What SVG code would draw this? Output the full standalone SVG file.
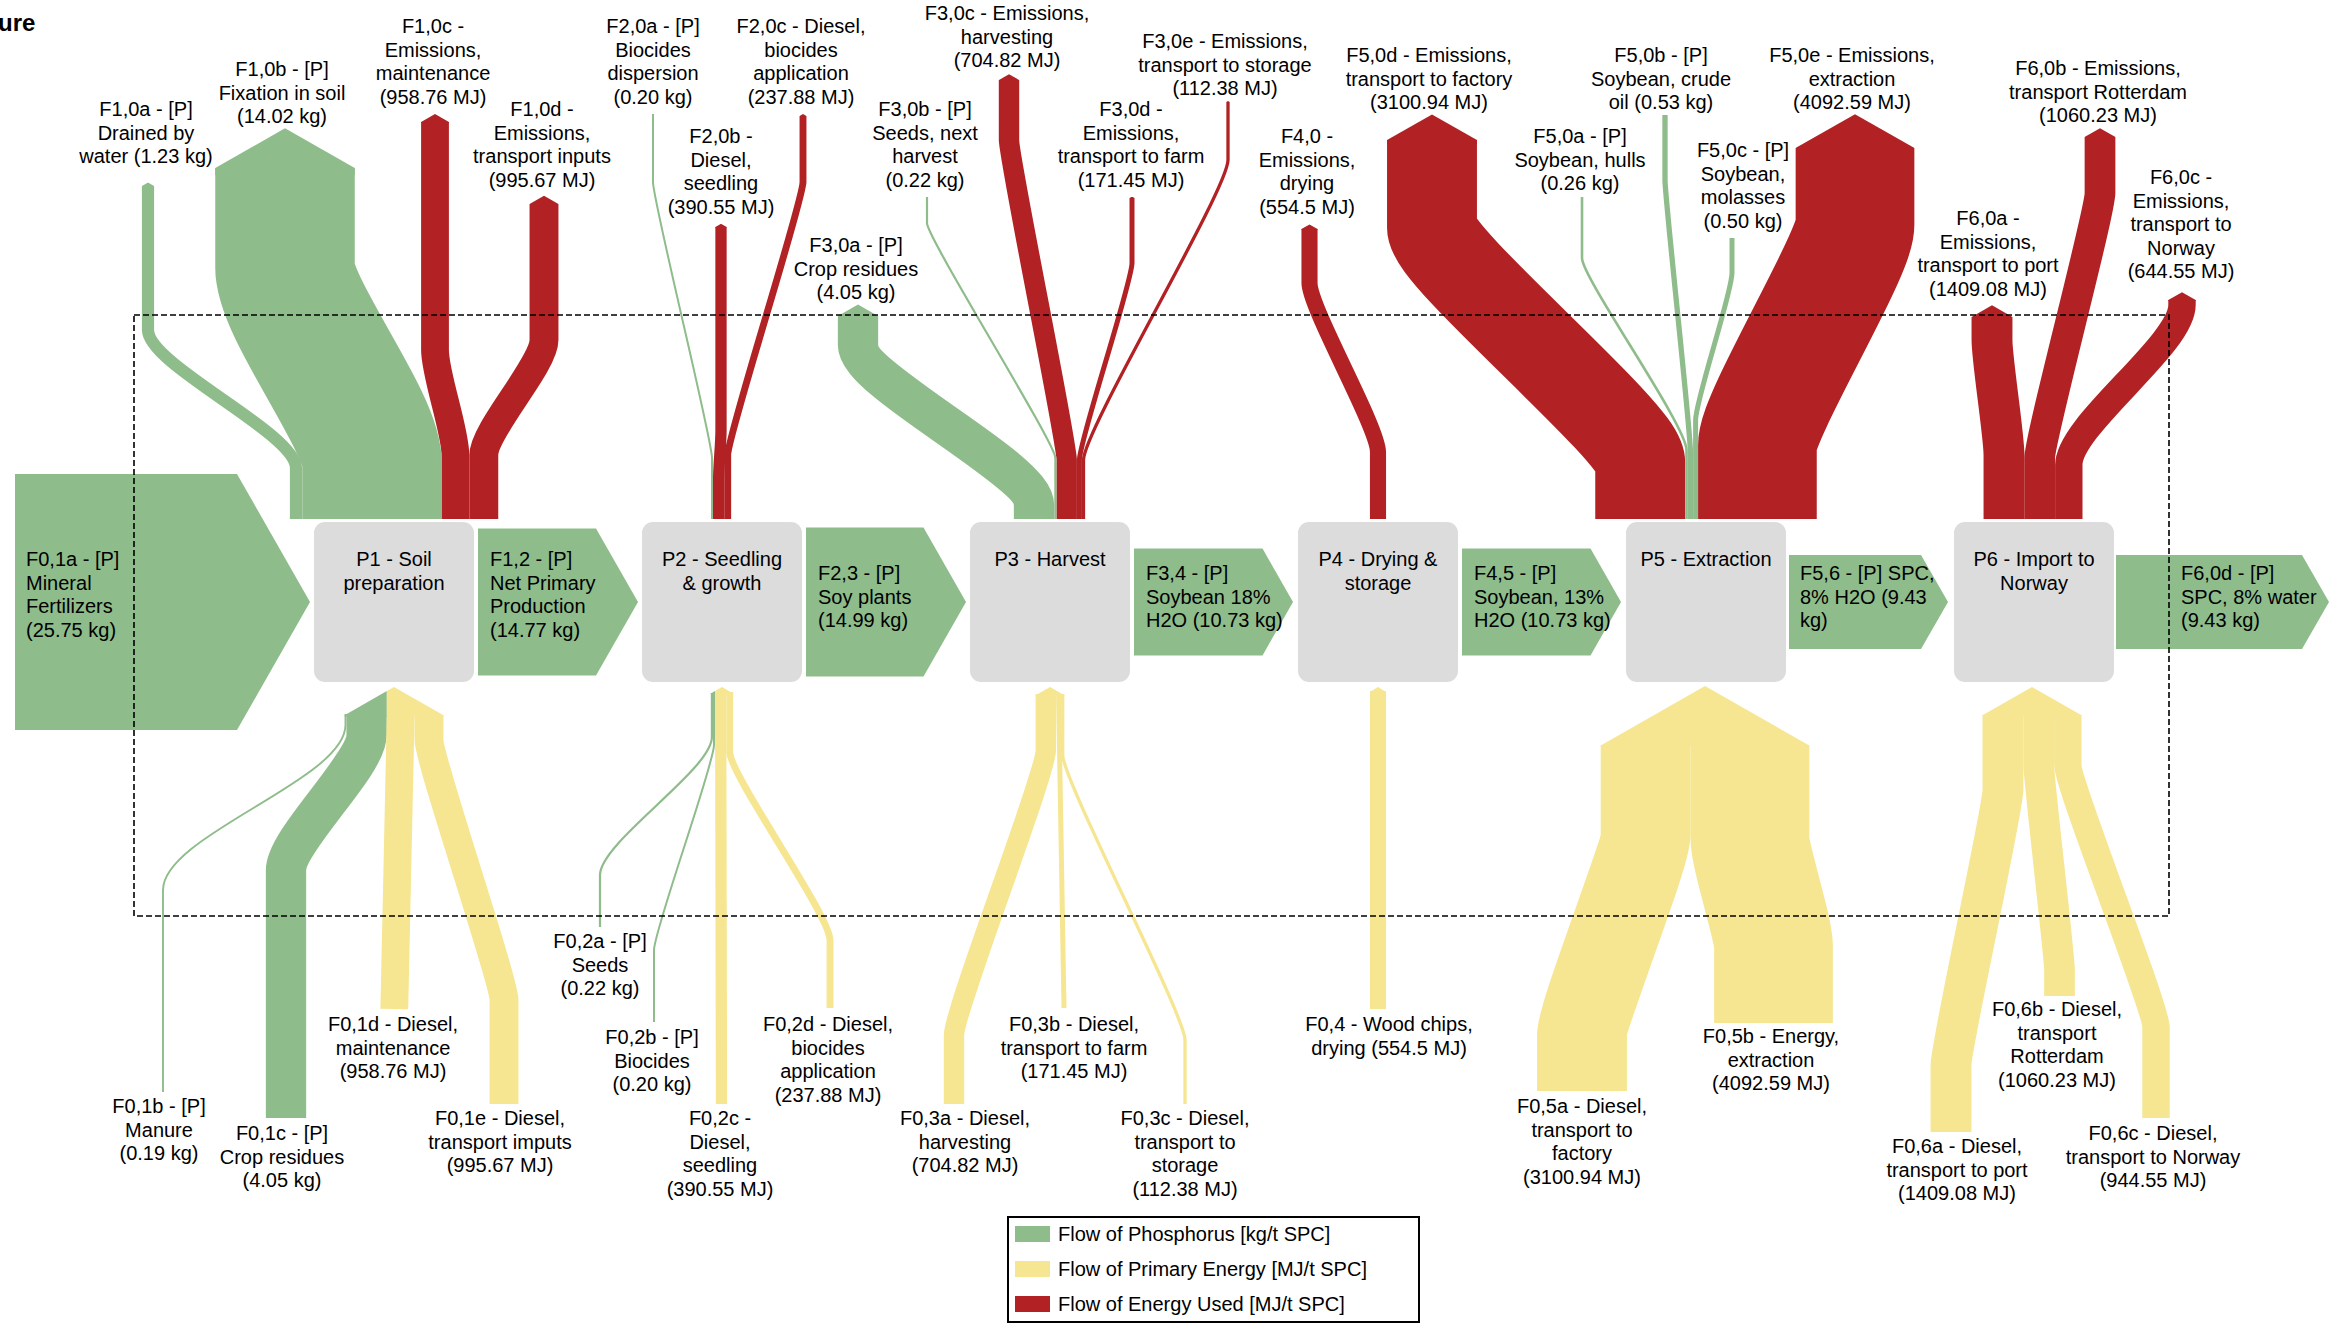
<svg xmlns="http://www.w3.org/2000/svg" width="2331" height="1324" viewBox="0 0 2331 1324">
<style>
.t{font-family:"Liberation Sans",Arial,sans-serif;font-size:20px;fill:#000;text-anchor:middle}
.ts{font-family:"Liberation Sans",Arial,sans-serif;font-size:20px;fill:#000;text-anchor:start}
.b{fill:none;stroke-linecap:butt}
.G{stroke:#8fbc8b}.R{stroke:#b22224}.Y{stroke:#f6e691}
.fG{fill:#8fbc8b}.fR{fill:#b22224}.fY{fill:#f6e691}
.proc{fill:#dcdcdc}
</style>
<defs>
<marker id="hG" viewBox="-0.05 -0.5 0.35 1" refX="0" refY="0" markerWidth="0.35" markerHeight="1" orient="auto-start-reverse" markerUnits="strokeWidth"><path d="M-0.05,-0.5L0,-0.5L0.285,0L0,0.5L-0.05,0.5Z" fill="#8fbc8b"/></marker>
<marker id="hR" viewBox="-0.05 -0.5 0.35 1" refX="0" refY="0" markerWidth="0.35" markerHeight="1" orient="auto-start-reverse" markerUnits="strokeWidth"><path d="M-0.05,-0.5L0,-0.5L0.285,0L0,0.5L-0.05,0.5Z" fill="#b22224"/></marker>
</defs>
<rect width="2331" height="1324" fill="#fff"/>
<text x="-2" y="31" font-family="Liberation Sans,Arial,sans-serif" font-size="24" font-weight="bold">ure</text>

<g id="connectors">
 <!-- horizontal phosphorus flows -->
 <polygon id="F01a" class="fG" points="15,474 237,474 310,602 237,730 15,730"/>
 <polygon id="F12" class="fG" points="478,528.5 596,528.5 638,602 596,675.5 478,675.5"/>
 <polygon id="F23" class="fG" points="806,527.5 923.5,527.5 966,602 923.5,676.5 806,676.5"/>
 <polygon id="F34" class="fG" points="1134,548.5 1262.5,548.5 1293,602 1262.5,655.5 1134,655.5"/>
 <polygon id="F45" class="fG" points="1462,548.5 1590.5,548.5 1621,602 1590.5,655.5 1462,655.5"/>
 <polygon id="F56" class="fG" points="1789,555 1921,555 1948,602 1921,649 1789,649"/>
 <polygon id="F60d" class="fG" points="2116,555 2302,555 2329,602 2302,649 2116,649"/>

 <!-- top outflows (red first, then green) -->
 <path id="F10c" class="b R" stroke-width="27.8" marker-start="url(#hR)" d="M435,122V350C435,375 455.4,430 455.4,455V519"/>
 <path id="F10d" class="b R" stroke-width="28.9" marker-start="url(#hR)" d="M544,204V340C544,365 483.8,430 483.8,455V519"/>
 <path id="F20b" class="b R" stroke-width="11.3" marker-start="url(#hR)" d="M721,227V430C721,445 718.6,465 718.6,480V519"/>
 <path id="F20c" class="b R" stroke-width="6.9" marker-start="url(#hR)" d="M803,116V182C803,202 727.7,435 727.7,455V519"/>
 <path id="F30c" class="b R" stroke-width="20.4" marker-start="url(#hR)" d="M1009,80V140C1009,160 1066.7,440 1066.7,460V519"/>
 <path id="F30d" class="b R" stroke-width="5" marker-start="url(#hR)" d="M1132,198V263C1132,283 1079.4,440 1079.4,460V519"/>
 <path id="F30e" class="b R" stroke-width="3.3" marker-start="url(#hR)" d="M1228,102V160C1228,190 1083.5,430 1083.5,460V519"/>
 <path id="F40" class="b R" stroke-width="16.1" marker-start="url(#hR)" d="M1309.5,229V283C1309.5,308 1378,427 1378,452V519"/>
 <path id="F50d" class="b R" stroke-width="89.9" marker-start="url(#hR)" d="M1432,140V228C1432,258 1640.2,432 1640.2,462V519"/>
 <path id="F50e" class="b R" stroke-width="118.7" marker-start="url(#hR)" d="M1855,148V225C1855,255 1757.4,415 1757.4,445V519"/>
 <path id="F60a" class="b R" stroke-width="40.9" marker-start="url(#hR)" d="M1992,317V340C1992,360 2004,435 2004,455V519"/>
 <path id="F60b" class="b R" stroke-width="30.7" marker-start="url(#hR)" d="M2100,137V193C2100,213 2039.7,438 2039.7,458V519"/>
 <path id="F60c" class="b R" stroke-width="27.4" marker-start="url(#hR)" d="M2182,300V305C2182,345 2068.8,425 2068.8,465V519"/>

 <path id="F10b" class="b G" stroke-width="139.5" marker-start="url(#hG)" d="M285,168V268C285,308 372,422 372,462V519"/>
 <path id="F10a" class="b G" stroke-width="12.2" marker-start="url(#hG)" d="M148,186V330C148,365 296,433 296,468V519"/>
 <path id="F20a" class="b G" stroke-width="2" d="M653,114V182C653,202 712,438 712,458V519"/>
 <path id="F30a" class="b G" stroke-width="40.3" marker-start="url(#hG)" d="M858,316V345C858,382 1034,468 1034,505V519"/>
 <path id="F30b" class="b G" stroke-width="2.2" d="M927,197V223C927,238 1055.4,443 1055.4,458V519"/>
 <path id="F50a" class="b G" stroke-width="2.6" d="M1582,197V258C1582,278 1686.5,425 1686.5,450V519"/>
 <path id="F50b" class="b G" stroke-width="5.3" d="M1665,115V180C1665,200 1690.4,427 1690.4,452V519"/>
 <path id="F50c" class="b G" stroke-width="5" d="M1732,238V273C1732,293 1695.6,400 1695.6,420V519"/>

 <!-- bottom inflows -->
 <path id="F01b" class="b G" stroke-width="1.9" d="M345.5,714V725C345.5,780 163,835 163,890V1092"/>
 <path id="F01c" class="b G" stroke-width="40.3" d="M366.6,715V735C366.6,765 286,840 286,870V1118"/>
 <path id="F01d" class="b Y" stroke-width="27.8" d="M400.7,715L394.3,1009"/>
 <path id="F01e" class="b Y" stroke-width="28.9" d="M429,715V740C429,760 504,980 504,1000V1104"/>
 <polygon class="fG" points="344.6,716.5 344.6,715.2 386.8,691.1 386.8,716.5"/>
 <polygon class="fY" points="386.8,716.5 386.8,691.1 394,687 443.5,715.2 443.5,716.5"/>

 <path id="F02a" class="b G" stroke-width="2.2" d="M711.9,693V737C711.9,770 600,842 600,875V927"/>
 <path id="F02b" class="b G" stroke-width="2" d="M714,692V745C714,765 654,930 654,950V1022"/>
 <path id="F02c" class="b Y" stroke-width="11.3" d="M720.65,692L721.5,1104"/>
 <path id="F02d" class="b Y" stroke-width="6.9" d="M729.75,692V752C729.75,775 830,915 830,940V1008"/>
 <polygon class="fG" points="710.8,694 710.8,693.4 715,691 715,694"/>
 <polygon class="fY" points="715,694 715,691 722,687 733.2,693.4 733.2,694"/>

 <path id="F03a" class="b Y" stroke-width="20.4" d="M1045.85,694V750C1045.85,775 954,1010 954,1035V1104"/>
 <path id="F03b" class="b Y" stroke-width="5" d="M1058.55,694L1064,1008"/>
 <path id="F03c" class="b Y" stroke-width="3.3" d="M1062.7,694V755C1062.7,780 1185,1015 1185,1040V1104"/>
 <polygon class="fY" points="1035.65,696 1035.65,695.2 1050,687 1064.35,695.2 1064.35,696"/>

 <path id="F04" class="b Y" stroke-width="16.1" d="M1378,691V1009"/>
 <polygon class="fY" points="1369.95,692 1378,687 1386.05,692"/>

 <path id="F05a" class="b Y" stroke-width="89.9" d="M1645.65,745V835C1645.65,855 1582,1015 1582,1035V1091"/>
 <path id="F05b" class="b Y" stroke-width="118.7" d="M1749.95,745V840C1749.95,855 1773.5,930 1773.5,945V1023"/>
 <polygon class="fY" points="1600.7,746 1600.7,745.5 1705,686 1809.3,745.5 1809.3,746"/>

 <path id="F06a" class="b Y" stroke-width="40.9" d="M2002.95,715V790C2002.95,810 1951,1045 1951,1065V1132"/>
 <path id="F06b" class="b Y" stroke-width="30.7" d="M2038.75,715V765C2038.75,780 2059.5,955 2059.5,970V996"/>
 <path id="F06c" class="b Y" stroke-width="27.4" d="M2067.8,715V765C2067.8,785 2156,1007 2156,1027V1118"/>
 <polygon class="fY" points="1982.5,716 1982.5,715.2 2032,687 2081.5,715.2 2081.5,716"/>
</g>

<g id="P1"><rect class="proc" x="314" y="522" width="160" height="160" rx="11"/><text class="t" x="394" y="566">P1 - Soil<tspan x="394" dy="24">preparation</tspan></text></g>
<g id="P2"><rect class="proc" x="642" y="522" width="160" height="160" rx="11"/><text class="t" x="722" y="566">P2 - Seedling<tspan x="722" dy="24">&amp; growth</tspan></text></g>
<g id="P3"><rect class="proc" x="970" y="522" width="160" height="160" rx="11"/><text class="t" x="1050" y="566">P3 - Harvest</text></g>
<g id="P4"><rect class="proc" x="1298" y="522" width="160" height="160" rx="11"/><text class="t" x="1378" y="566">P4 - Drying &amp;<tspan x="1378" dy="24">storage</tspan></text></g>
<g id="P5"><rect class="proc" x="1626" y="522" width="160" height="160" rx="11"/><text class="t" x="1706" y="566">P5 - Extraction</text></g>
<g id="P6"><rect class="proc" x="1954" y="522" width="160" height="160" rx="11"/><text class="t" x="2034" y="566">P6 - Import to<tspan x="2034" dy="24">Norway</tspan></text></g>

<rect id="boundary" x="134" y="315" width="2035" height="601" fill="none" stroke="#000" stroke-width="1.6" stroke-dasharray="6,3"/>

<g id="flow-labels">
 <text class="ts" x="26" y="566">F0,1a - [P]<tspan x="26" dy="23.5">Mineral</tspan><tspan x="26" dy="23.5">Fertilizers</tspan><tspan x="26" dy="23.5">(25.75 kg)</tspan></text>
 <text class="ts" x="490" y="566">F1,2 - [P]<tspan x="490" dy="23.5">Net Primary</tspan><tspan x="490" dy="23.5">Production</tspan><tspan x="490" dy="23.5">(14.77 kg)</tspan></text>
 <text class="ts" x="818" y="580">F2,3 - [P]<tspan x="818" dy="23.5">Soy plants</tspan><tspan x="818" dy="23.5">(14.99 kg)</tspan></text>
 <text class="ts" x="1146" y="580">F3,4 - [P]<tspan x="1146" dy="23.5">Soybean 18%</tspan><tspan x="1146" dy="23.5">H2O (10.73 kg)</tspan></text>
 <text class="ts" x="1474" y="580">F4,5 - [P]<tspan x="1474" dy="23.5">Soybean, 13%</tspan><tspan x="1474" dy="23.5">H2O (10.73 kg)</tspan></text>
 <text class="ts" x="1800" y="580">F5,6 - [P] SPC,<tspan x="1800" dy="23.5">8% H2O (9.43</tspan><tspan x="1800" dy="23.5">kg)</tspan></text>
 <text class="ts" x="2181" y="580">F6,0d - [P]<tspan x="2181" dy="23.5">SPC, 8% water</tspan><tspan x="2181" dy="23.5">(9.43 kg)</tspan></text>

 <text class="t" x="146" y="116">F1,0a - [P]<tspan x="146" dy="23.5">Drained by</tspan><tspan x="146" dy="23.5">water (1.23 kg)</tspan></text>
 <text class="t" x="282" y="76">F1,0b - [P]<tspan x="282" dy="23.5">Fixation in soil</tspan><tspan x="282" dy="23.5">(14.02 kg)</tspan></text>
 <text class="t" x="433" y="33">F1,0c -<tspan x="433" dy="23.5">Emissions,</tspan><tspan x="433" dy="23.5">maintenance</tspan><tspan x="433" dy="23.5">(958.76 MJ)</tspan></text>
 <text class="t" x="542" y="116">F1,0d -<tspan x="542" dy="23.5">Emissions,</tspan><tspan x="542" dy="23.5">transport inputs</tspan><tspan x="542" dy="23.5">(995.67 MJ)</tspan></text>
 <text class="t" x="653" y="33">F2,0a - [P]<tspan x="653" dy="23.5">Biocides</tspan><tspan x="653" dy="23.5">dispersion</tspan><tspan x="653" dy="23.5">(0.20 kg)</tspan></text>
 <text class="t" x="721" y="143">F2,0b -<tspan x="721" dy="23.5">Diesel,</tspan><tspan x="721" dy="23.5">seedling</tspan><tspan x="721" dy="23.5">(390.55 MJ)</tspan></text>
 <text class="t" x="801" y="33">F2,0c - Diesel,<tspan x="801" dy="23.5">biocides</tspan><tspan x="801" dy="23.5">application</tspan><tspan x="801" dy="23.5">(237.88 MJ)</tspan></text>
 <text class="t" x="856" y="252">F3,0a - [P]<tspan x="856" dy="23.5">Crop residues</tspan><tspan x="856" dy="23.5">(4.05 kg)</tspan></text>
 <text class="t" x="925" y="116">F3,0b - [P]<tspan x="925" dy="23.5">Seeds, next</tspan><tspan x="925" dy="23.5">harvest</tspan><tspan x="925" dy="23.5">(0.22 kg)</tspan></text>
 <text class="t" x="1007" y="20">F3,0c - Emissions,<tspan x="1007" dy="23.5">harvesting</tspan><tspan x="1007" dy="23.5">(704.82 MJ)</tspan></text>
 <text class="t" x="1131" y="116">F3,0d -<tspan x="1131" dy="23.5">Emissions,</tspan><tspan x="1131" dy="23.5">transport to farm</tspan><tspan x="1131" dy="23.5">(171.45 MJ)</tspan></text>
 <text class="t" x="1225" y="48">F3,0e - Emissions,<tspan x="1225" dy="23.5">transport to storage</tspan><tspan x="1225" dy="23.5">(112.38 MJ)</tspan></text>
 <text class="t" x="1307" y="143">F4,0 -<tspan x="1307" dy="23.5">Emissions,</tspan><tspan x="1307" dy="23.5">drying</tspan><tspan x="1307" dy="23.5">(554.5 MJ)</tspan></text>
 <text class="t" x="1429" y="62">F5,0d - Emissions,<tspan x="1429" dy="23.5">transport to factory</tspan><tspan x="1429" dy="23.5">(3100.94 MJ)</tspan></text>
 <text class="t" x="1580" y="143">F5,0a - [P]<tspan x="1580" dy="23.5">Soybean, hulls</tspan><tspan x="1580" dy="23.5">(0.26 kg)</tspan></text>
 <text class="t" x="1661" y="62">F5,0b - [P]<tspan x="1661" dy="23.5">Soybean, crude</tspan><tspan x="1661" dy="23.5">oil (0.53 kg)</tspan></text>
 <text class="t" x="1743" y="157">F5,0c - [P]<tspan x="1743" dy="23.5">Soybean,</tspan><tspan x="1743" dy="23.5">molasses</tspan><tspan x="1743" dy="23.5">(0.50 kg)</tspan></text>
 <text class="t" x="1852" y="62">F5,0e - Emissions,<tspan x="1852" dy="23.5">extraction</tspan><tspan x="1852" dy="23.5">(4092.59 MJ)</tspan></text>
 <text class="t" x="1988" y="225">F6,0a -<tspan x="1988" dy="23.5">Emissions,</tspan><tspan x="1988" dy="23.5">transport to port</tspan><tspan x="1988" dy="23.5">(1409.08 MJ)</tspan></text>
 <text class="t" x="2098" y="75">F6,0b - Emissions,<tspan x="2098" dy="23.5">transport Rotterdam</tspan><tspan x="2098" dy="23.5">(1060.23 MJ)</tspan></text>
 <text class="t" x="2181" y="184">F6,0c -<tspan x="2181" dy="23.5">Emissions,</tspan><tspan x="2181" dy="23.5">transport to</tspan><tspan x="2181" dy="23.5">Norway</tspan><tspan x="2181" dy="23.5">(644.55 MJ)</tspan></text>

 <text class="t" x="159" y="1113">F0,1b - [P]<tspan x="159" dy="23.5">Manure</tspan><tspan x="159" dy="23.5">(0.19 kg)</tspan></text>
 <text class="t" x="282" y="1140">F0,1c - [P]<tspan x="282" dy="23.5">Crop residues</tspan><tspan x="282" dy="23.5">(4.05 kg)</tspan></text>
 <text class="t" x="393" y="1031">F0,1d - Diesel,<tspan x="393" dy="23.5">maintenance</tspan><tspan x="393" dy="23.5">(958.76 MJ)</tspan></text>
 <text class="t" x="500" y="1125">F0,1e - Diesel,<tspan x="500" dy="23.5">transport imputs</tspan><tspan x="500" dy="23.5">(995.67 MJ)</tspan></text>
 <text class="t" x="600" y="948">F0,2a - [P]<tspan x="600" dy="23.5">Seeds</tspan><tspan x="600" dy="23.5">(0.22 kg)</tspan></text>
 <text class="t" x="652" y="1044">F0,2b - [P]<tspan x="652" dy="23.5">Biocides</tspan><tspan x="652" dy="23.5">(0.20 kg)</tspan></text>
 <text class="t" x="720" y="1125">F0,2c -<tspan x="720" dy="23.5">Diesel,</tspan><tspan x="720" dy="23.5">seedling</tspan><tspan x="720" dy="23.5">(390.55 MJ)</tspan></text>
 <text class="t" x="828" y="1031">F0,2d - Diesel,<tspan x="828" dy="23.5">biocides</tspan><tspan x="828" dy="23.5">application</tspan><tspan x="828" dy="23.5">(237.88 MJ)</tspan></text>
 <text class="t" x="965" y="1125">F0,3a - Diesel,<tspan x="965" dy="23.5">harvesting</tspan><tspan x="965" dy="23.5">(704.82 MJ)</tspan></text>
 <text class="t" x="1074" y="1031">F0,3b - Diesel,<tspan x="1074" dy="23.5">transport to farm</tspan><tspan x="1074" dy="23.5">(171.45 MJ)</tspan></text>
 <text class="t" x="1185" y="1125">F0,3c - Diesel,<tspan x="1185" dy="23.5">transport to</tspan><tspan x="1185" dy="23.5">storage</tspan><tspan x="1185" dy="23.5">(112.38 MJ)</tspan></text>
 <text class="t" x="1389" y="1031">F0,4 - Wood chips,<tspan x="1389" dy="23.5">drying (554.5 MJ)</tspan></text>
 <text class="t" x="1582" y="1113">F0,5a - Diesel,<tspan x="1582" dy="23.5">transport to</tspan><tspan x="1582" dy="23.5">factory</tspan><tspan x="1582" dy="23.5">(3100.94 MJ)</tspan></text>
 <text class="t" x="1771" y="1043">F0,5b - Energy,<tspan x="1771" dy="23.5">extraction</tspan><tspan x="1771" dy="23.5">(4092.59 MJ)</tspan></text>
 <text class="t" x="1957" y="1153">F0,6a - Diesel,<tspan x="1957" dy="23.5">transport to port</tspan><tspan x="1957" dy="23.5">(1409.08 MJ)</tspan></text>
 <text class="t" x="2057" y="1016">F0,6b - Diesel,<tspan x="2057" dy="23.5">transport</tspan><tspan x="2057" dy="23.5">Rotterdam</tspan><tspan x="2057" dy="23.5">(1060.23 MJ)</tspan></text>
 <text class="t" x="2153" y="1140">F0,6c - Diesel,<tspan x="2153" dy="23.5">transport to Norway</tspan><tspan x="2153" dy="23.5">(944.55 MJ)</tspan></text>
</g>

<g id="legend">
 <rect x="1008" y="1217" width="411" height="105" fill="#fff" stroke="#000" stroke-width="2"/>
 <rect class="fG" x="1015" y="1226" width="35" height="16"/>
 <rect class="fY" x="1015" y="1261" width="35" height="16"/>
 <rect class="fR" x="1015" y="1296" width="35" height="16"/>
 <text class="ts" x="1058" y="1241">Flow of Phosphorus [kg/t SPC]</text>
 <text class="ts" x="1058" y="1276">Flow of Primary Energy [MJ/t SPC]</text>
 <text class="ts" x="1058" y="1311">Flow of Energy Used [MJ/t SPC]</text>
</g>
</svg>
